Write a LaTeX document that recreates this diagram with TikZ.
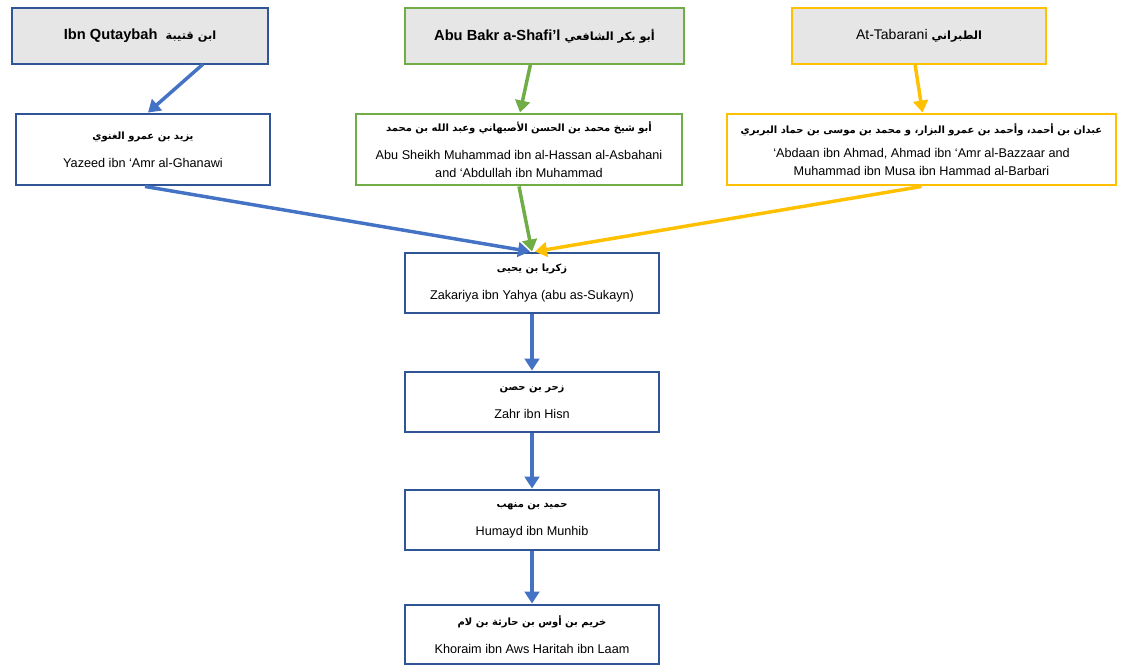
\documentclass[tikz,border=0pt]{standalone}
\usepackage{fontspec}
\setmainfont{Liberation Sans}
\newfontfamily\arabicfont[Script=Arabic]{DejaVu Sans}
\TeXXeTstate=1
\usetikzlibrary{calc,arrows.meta}
\newcommand\artxt[1]{{\arabicfont\beginR #1\endR}}
\definecolor{dblue}{HTML}{2F5597}
\definecolor{lblue}{HTML}{4472C4}
\definecolor{dgreen}{HTML}{70AD47}
\definecolor{gold}{HTML}{FFC000}
\definecolor{lgray}{HTML}{E6E6E6}
\tikzset{
  box/.style={draw, line width=2.2pt, inner sep=2pt, align=center, font=\fontsize{9.5}{14}\selectfont},
  head/.style={box, fill=lgray, font=\fontsize{11}{13}\selectfont},
  arr/.style={line width=2.6pt, -{Triangle[length=9pt,width=11pt]}},
}
\begin{document}
\begin{tikzpicture}[x=0.75pt,y=-0.75pt]
\useasboundingbox (0,0) rectangle (1126,669);
% headers
\node[head, draw=dblue, minimum width=256*0.75pt, minimum height=56*0.75pt] (qut) at (140,36)
  {\bfseries Ibn Qutaybah\ \ \artxt{\fontsize{8.5}{9}\selectfont ابن قتيبة}};
\node[head, draw=dgreen, minimum width=279*0.75pt, minimum height=56*0.75pt] (bakr) at (544.5,36)
  {\bfseries Abu Bakr a-Shafi'l \artxt{\fontsize{8.5}{9}\selectfont أبو بكر الشافعي}};
\node[head, draw=gold, minimum width=254*0.75pt, minimum height=56*0.75pt] (tab) at (919,36)
  {\fontsize{10.5}{13}\selectfont At-Tabarani \artxt{\fontsize{8.5}{9}\selectfont\bfseries الطبراني}};
% second row
\node[box, draw=dblue, minimum width=254*0.75pt, minimum height=71*0.75pt] (yaz) at (143,149.5)
  {\artxt{\fontsize{7.5}{9}\selectfont\bfseries يزيد بن عمرو الغنوي}\\[7pt] Yazeed ibn ‘Amr al-Ghanawi};
\node[box, draw=dgreen, minimum width=326*0.75pt, minimum height=71*0.75pt] (shaykh) at (519,149.5)
  {\artxt{\fontsize{7.5}{9}\selectfont\bfseries أبو شيخ محمد بن الحسن الأصبهاني وعبد الله بن محمد}\\[7pt]
   Abu Sheikh Muhammad ibn al-Hassan al-Asbahani\\ and ‘Abdullah ibn Muhammad};
\node[box, draw=gold, minimum width=389*0.75pt, minimum height=71*0.75pt] (abdaan) at (921.5,149.5)
  {\raisebox{8pt}{\artxt{\fontsize{7.5}{9}\selectfont\bfseries عبدان بن أحمد، وأحمد بن عمرو البزار، و محمد بن موسى بن حماد البربري}}\\[-4pt]
   ‘Abdaan ibn Ahmad, Ahmad ibn ‘Amr al-Bazzaar and\\ Muhammad ibn Musa ibn Hammad al-Barbari};
% chain
\node[box, draw=dblue, minimum width=254*0.75pt, minimum height=60*0.75pt] (zak) at (532,283)
  {\artxt{\fontsize{7.5}{9}\selectfont\bfseries زكريا بن يحيى}\\[7pt] Zakariya ibn Yahya (abu as-Sukayn)};
\node[box, draw=dblue, minimum width=254*0.75pt, minimum height=60*0.75pt] (zahr) at (532,402)
  {\artxt{\fontsize{7.5}{9}\selectfont\bfseries زحر بن حصن}\\[7pt] Zahr ibn Hisn};
\node[box, draw=dblue, minimum width=254*0.75pt, minimum height=60*0.75pt] (hum) at (532,520)
  {\artxt{\fontsize{7.5}{9}\selectfont\bfseries حميد بن منهب}\\[7pt] Humayd ibn Munhib};
\node[box, draw=dblue, minimum width=254*0.75pt, minimum height=59*0.75pt] (khor) at (532,634.5)
  {\artxt{\fontsize{7.5}{9}\selectfont\bfseries خريم بن أوس بن حارثة بن لام}\\[7pt] Khoraim ibn Aws Haritah ibn Laam};
% arrows
\draw[arr, lblue] ($(qut.south)+(63*0.75pt,1pt)$) -- ($(yaz.north)+(5*0.75pt,0)$);
\draw[arr, dgreen] ($(bakr.south)+(-14*0.75pt,1pt)$) -- ($(shaykh.north)+(1*0.75pt,0)$);
\draw[arr, gold] ($(tab.south)+(-4*0.75pt,1pt)$) -- ($(abdaan.north)+(1*0.75pt,0)$);
\draw[arr, lblue] ($(yaz.south)+(2*0.75pt,0)$) -- ($(zak.north)+(-2*0.75pt,0)$);
\draw[arr, gold] ($(abdaan.south)+(0,0)$) -- ($(zak.north)+(3*0.75pt,0)$);
\draw[arr, dgreen] ($(shaykh.south)+(0,0)$) -- ($(zak.north)+(0,0)$);
\draw[arr, lblue] (zak) -- (zahr);
\draw[arr, lblue] (zahr) -- (hum);
\draw[arr, lblue] (hum) -- (khor);
\end{tikzpicture}
\end{document}
